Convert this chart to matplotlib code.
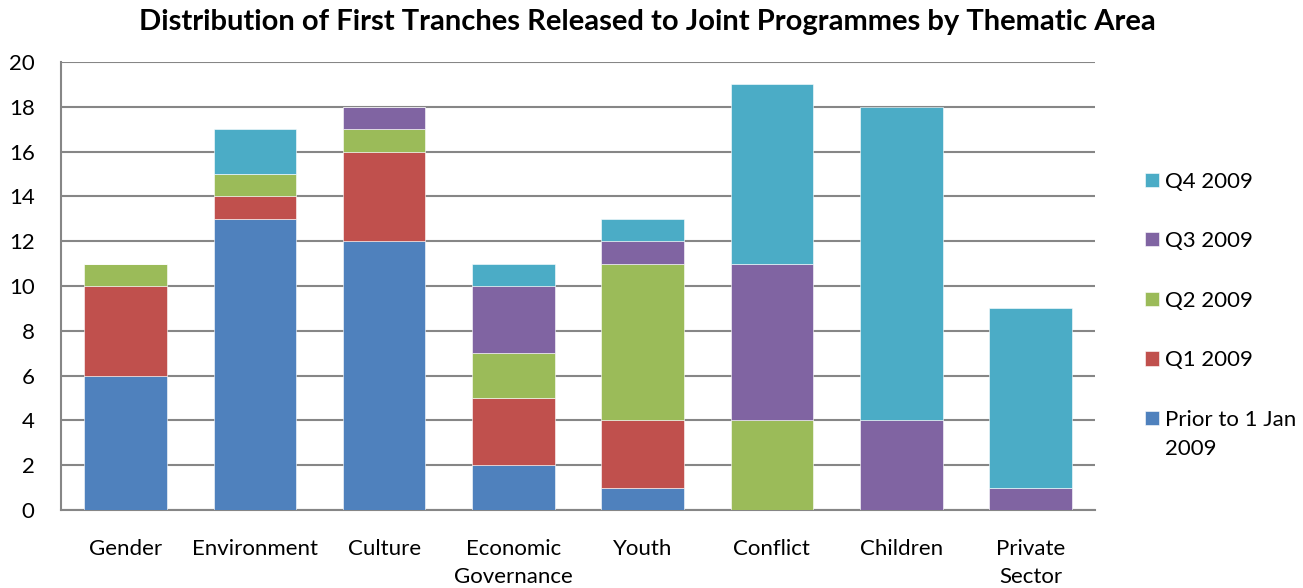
import numpy as np
import matplotlib
matplotlib.use('Agg')
import matplotlib.pyplot as plt

plt.rcParams['font.family'] = ['Lato', 'DejaVu Sans']

categories = ['Gender', 'Environment', 'Culture', 'Economic\nGovernance', 'Youth',
              'Conflict', 'Children', 'Private\nSector']
series_names = ['Prior to 1 Jan', 'Q1 2009', 'Q2 2009', 'Q3 2009', 'Q4 2009']
prior = [6, 13, 12, 2, 1, 0, 0, 0]
q1 = [4, 1, 4, 3, 3, 0, 0, 0]
q2 = [1, 1, 1, 2, 7, 4, 0, 0]
q3 = [0, 0, 1, 3, 1, 7, 4, 1]
q4 = [0, 2, 0, 1, 1, 8, 14, 8]
colors = ['#4F81BD', '#C0504D', '#9BBB59', '#8064A2', '#4BACC6']

fig = plt.figure(figsize=(13.03, 5.88), dpi=100)
ax = fig.add_axes([0.0468, 0.1327, 0.7936, 0.7619])

x = np.arange(len(categories))
bottom = np.zeros(len(categories))
handles = []
for vals, name, c in zip([prior, q1, q2, q3, q4], series_names, colors):
    b = ax.bar(x, vals, 0.64, bottom=bottom, color=c, label=name,
               edgecolor='white', linewidth=0.4, zorder=3)
    handles.append(b)
    bottom += np.array(vals)

ax.set_xlim(-0.5, len(categories) - 0.5)
ax.set_ylim(0, 20)
ax.set_yticks(range(0, 21, 2))
ax.set_xticks(x)
ax.set_xticklabels(categories, fontsize=16, linespacing=1.5)
ax.tick_params(axis='x', length=0, pad=21)
ax.tick_params(axis='y', length=0, pad=19, labelsize=16)
ax.yaxis.grid(True, color='#868686', linewidth=1.5, zorder=0)
ax.set_axisbelow(True)
for s in ['top', 'right']:
    ax.spines[s].set_visible(False)
for s in ['left', 'bottom']:
    ax.spines[s].set_color('#868686')
    ax.spines[s].set_linewidth(1.5)

leg = ax.legend(handles[::-1], series_names[::-1], loc='upper left',
                bbox_to_anchor=(1.04, 0.775), frameon=False, fontsize=16,
                handlelength=0.6, handleheight=0.6, handletextpad=0.3,
                labelspacing=1.78, borderaxespad=0)

# second line of the last legend label
fig.canvas.draw()
bb = leg.get_texts()[-1].get_window_extent()
fig.text(bb.x0 / fig.bbox.width, (bb.y0 - 9) / fig.bbox.height, '2009',
         fontsize=16, va='top', ha='left')

fig.suptitle('Distribution of First Tranches Released to Joint Programmes by Thematic Area',
             fontsize=21, fontweight='bold', x=0.497, y=0.985, va='top')

fig.savefig('out.png', dpi=100)
